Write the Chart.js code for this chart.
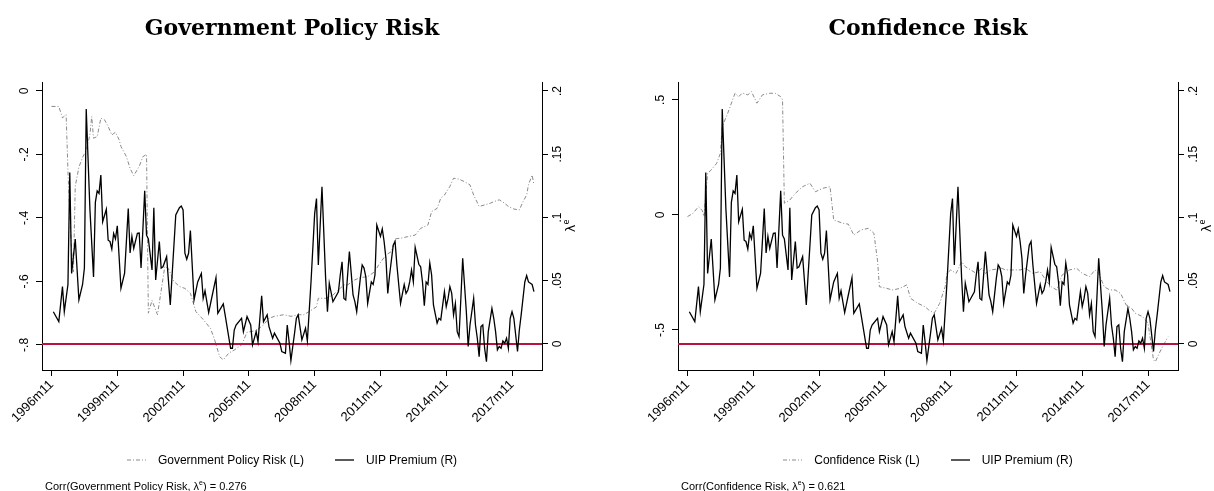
<!DOCTYPE html>
<html>
<head>
<meta charset="utf-8">
<script src="https://cdn.jsdelivr.net/npm/chart.js@4.4.1/dist/chart.umd.min.js"></script>
<style>
    body { margin: 0; background: #fff; }
    #wrap { position: relative; width: 1214px; height: 491px; overflow: hidden; font-family: "Liberation Sans", Arial, sans-serif; color: #000; }
    .panel { position: absolute; top: 0; width: 607px; height: 491px; }
    .panel canvas { position: absolute; left: 0; top: 0; }
    .title { position: absolute; top: 14px; width: 500px; text-align: center; font: bold 22px "DejaVu Serif", serif; }
    .legend { position: absolute; top: 452px; width: 500px; height: 16px; display: flex; justify-content: center; align-items: center; font-size: 12px; }
    .legend svg { margin-right: 12px; }
    .legend .gap { width: 31px; }
    .note { position: absolute; top: 479px; font-size: 11px; white-space: nowrap; }
    .note sup { font-size: 7px; }
</style>
</head>
<body>
<div id="wrap">
    <div class="panel" style="left:0"><canvas id="govChart" width="607" height="491"></canvas></div>
    <div class="panel" style="left:607px"><canvas id="confChart" width="607" height="491"></canvas></div>

    <div class="title" style="left:42px">Government Policy Risk</div>
    <div class="title" style="left:678px">Confidence Risk</div>

    <div class="legend" style="left:42px">
        <svg width="19" height="4"><line x1="0" y1="2" x2="19" y2="2" stroke="#8a8a8a" stroke-width="1" stroke-dasharray="4 2 1 2"/></svg>
        <span>Government Policy Risk (L)</span>
        <span class="gap"></span>
        <svg width="19" height="4"><line x1="0" y1="2" x2="19" y2="2" stroke="#000" stroke-width="1.3"/></svg>
        <span>UIP Premium (R)</span>
    </div>
    <div class="legend" style="left:678px">
        <svg width="19" height="4"><line x1="0" y1="2" x2="19" y2="2" stroke="#8a8a8a" stroke-width="1" stroke-dasharray="4 2 1 2"/></svg>
        <span>Confidence Risk (L)</span>
        <span class="gap"></span>
        <svg width="19" height="4"><line x1="0" y1="2" x2="19" y2="2" stroke="#000" stroke-width="1.3"/></svg>
        <span>UIP Premium (R)</span>
    </div>

    <div class="note" style="left:45px">Corr(Government Policy Risk, λ<sup>e</sup>) = 0.276</div>
    <div class="note" style="left:681px">Corr(Confidence Risk, λ<sup>e</sup>) = 0.621</div>
</div>

<script>
// ===== Data (x = months since 1996m11) =====
const xTickMonths = [0, 36, 72, 108, 144, 180, 216, 252];
const xTickLabels = ['1996m11', '1999m11', '2002m11', '2005m11', '2008m11', '2011m11', '2014m11', '2017m11'];
const xRange = { min: -5.2, max: 268.4 };

// UIP premium (right axis, shared by both panels)
const uipMonths = [1, 4, 6, 7, 9, 10, 11, 13, 15, 17, 18, 19, 21, 23, 24, 25, 26, 27, 28, 30,
    31, 32, 33, 34, 35, 36, 38, 40, 42, 43, 44, 45, 47, 48, 49, 51, 52, 53, 55, 56,
    57, 59, 60, 61, 63, 65, 68, 70, 71, 72, 73, 74, 75, 76, 78, 80, 82, 83, 84, 86,
    88, 90, 91, 94, 95, 98, 99, 100, 101, 104, 105, 107, 109, 110, 112, 113, 115, 116, 118, 119,
    121, 122, 125, 126, 128, 129, 130, 131, 133, 134, 135, 137, 139, 140, 142, 144, 145, 146, 148, 150,
    151, 152, 154, 157, 158, 159, 160, 161, 163, 164, 165, 166, 167, 169, 170, 171, 172, 173, 175, 176,
    177, 178, 180, 181, 182, 183, 184, 185, 187, 188, 189, 190, 191, 193, 194, 195, 196, 197, 198, 199,
    201, 202, 203, 204, 205, 206, 207, 208, 209, 211, 212, 213, 215, 216, 217, 218, 219, 220, 221, 222,
    223, 224, 225, 227, 228, 229, 231, 232, 233, 234, 235, 236, 237, 238, 239, 241, 242, 243, 244, 245,
    246, 247, 248, 249, 250, 251, 252, 253, 255, 256, 257, 259, 260, 261, 263, 264];
const uipValues = [.0255, .0176, .0453, .0255, .047, .1356, .0558, .083, .0348, .047, .060, .1857, .107, .053, .112, .121, .119, .1335, .0966, .1064,
    .082, .081, .075, .0874, .083, .0934, .044, .056, .107, .072, .085, .0756, .0874, .0877, .060, .121, .086, .083, .0585, .1077,
    .0506, .081, .060, .061, .069, .0308, .102, .1077, .109, .106, .0717, .067, .0717, .0896, .0348, .049, .0558, .036, .042, .0248,
    .0387, .0524, .0242, .0316, .023, -.0034, -.0034, .011, .015, .0203, .0097, .0216, .015, -.0008, .0097, .0018, .038, .0176, .023, .0137,
    .0045, .0085, .0005, -.006, -.0074, .015, .0018, -.0132, .0085, .0203, .023, .0032, .0124, .0024, .049, .103, .115, .0624, .1243, .052,
    .0255, .048, .0334, .0413, .0545, .065, .036, .0348, .073, .056, .0387, .0334, .0255, .052, .0624, .060, .053, .032, .049, .047,
    .0545, .094, .085, .091, .081, .0677, .040, .0545, .078, .081, .0624, .047, .032, .047, .040, .0427, .049, .0585, .049, .0764,
    .063, .061, .049, .0303, .049, .047, .064, .0545, .0308, .0164, .0203, .019, .0413, .0295, .036, .0453, .040, .023, .032, .0097,
    .0058, .036, .0677, .0255, -.002, .015, .036, .015, .0045, -.010, .0137, .015, -.0034, -.014, .0097, .0282, .0203, .0097, -.0047, -.002,
    -.0034, .0024, .0006, .0045, -.0034, .0203, .0255, .0203, -.006, .011, .023, .049, .054, .049, .047, .0413];

// Government policy risk (left axis, left panel)
const govMonths = [0, 4, 6, 8, 9, 10, 11, 12, 13, 15, 17, 19, 21, 22, 23, 25, 27, 29, 31, 33,
    35, 37, 38, 41, 43, 45, 48, 50, 52, 53, 55, 58, 62, 64, 67, 70, 73, 76, 79, 83,
    87, 89, 92, 94, 97, 100, 104, 107, 112, 116, 119, 122, 127, 131, 135, 138, 141, 145, 146, 150,
    154, 157, 160, 162, 166, 169, 173, 177, 179, 183, 186, 188, 191, 195, 199, 202, 206, 208, 211, 213,
    215, 218, 220, 223, 226, 229, 231, 234, 237, 240, 242, 245, 248, 250, 253, 256, 258, 260, 261, 263, 264];
const govValues = [-.049, -.049, -.085, -.075, -.25, -.40, -.50, -.57, -.30, -.24, -.21, -.186, -.139, -.081, -.149, -.144, -.086, -.091, -.112, -.139,
    -.13, -.154, -.175, -.207, -.244, -.267, -.238, -.207, -.20, -.70, -.66, -.705, -.553, -.56, -.60, -.616, -.622, -.637, -.695, -.72,
    -.748, -.779, -.837, -.847, -.826, -.816, -.80, -.76, -.755, -.737, -.716, -.71, -.705, -.71, -.705, -.705, -.695, -.68, -.653, -.653,
    -.643, -.627, -.611, -.611, -.595, -.588, -.585, -.569, -.548, -.517, -.506, -.466, -.464, -.459, -.454, -.433, -.422, -.38, -.37, -.338,
    -.328, -.301, -.275, -.278, -.286, -.296, -.328, -.364, -.359, -.354, -.349, -.343, -.354, -.364, -.372, -.375, -.349, -.328, -.296, -.265, -.296];

// Confidence risk (left axis, right panel)
const confMonths = [0, 3, 6, 8, 9, 11, 13, 16, 18, 19, 22, 26, 28, 30, 33, 35, 38, 41, 45, 48,
    51, 52, 53, 56, 59, 63, 67, 70, 74, 78, 79, 80, 85, 88, 91, 95, 99, 102, 104, 105,
    109, 112, 116, 120, 122, 126, 130, 132, 135, 138, 141, 142, 144, 147, 150, 152, 155, 158, 161, 163,
    166, 172, 174, 178, 182, 185, 189, 193, 196, 199, 202, 205, 209, 213, 216, 220, 223, 225, 228, 231,
    234, 237, 240, 243, 245, 249, 252, 255, 256, 259, 262, 263];
const confValues = [-.007, .007, .036, .02, -.007, .181, .196, .225, .268, .384, .442, .529, .514, .53, .522, .536, .486, .522, .529, .529,
    .514, .50, .051, .065, .094, .123, .138, .101, .116, .123, .05, -.022, -.036, -.04, -.087, -.065, -.058, -.08, -.2, -.312,
    -.319, -.326, -.32, -.304, -.362, -.384, -.399, -.413, -.427, -.384, -.312, -.254, -.239, -.254, -.203, -.225, -.239, -.254, -.232, -.254,
    -.239, -.232, -.239, -.239, -.239, -.232, -.254, -.246, -.283, -.312, -.326, -.261, -.239, -.232, -.254, -.268, -.239, -.254, -.312, -.326,
    -.326, -.341, -.391, -.406, -.427, -.442, -.471, -.63, -.638, -.587, -.543, -.529];

// Axis ticks and ranges
const govTicks = [-0.8, -0.6, -0.4, -0.2, 0];
const govTickLabels = ['-.8', '-.6', '-.4', '-.2', '0'];
const govRange = { min: -0.879, max: 0.028 };
const confTicks = [-0.5, 0, 0.5];
const confTickLabels = ['-.5', '0', '.5'];
const confRange = { min: -0.674, max: 0.578 };
const uipTicks = [0, 0.05, 0.1, 0.15, 0.2];
const uipTickLabels = ['0', '.05', '.1', '.15', '.2'];
const uipRange = { min: -0.0206, max: 0.2071 };
const uipZero = 0;

// ===== Helpers =====
const toPoints = (months, values) => months.map((m, i) => ({ x: m, y: values[i] }));
const FONT = '"Liberation Sans", Arial, sans-serif';

// Stata-style rotated y labels and the λᵉ axis title
const stataAxes = {
    id: 'stataAxes',
    afterDraw(chart, args, opts) {
        const ctx = chart.ctx;
        const yL = chart.scales.yL;
        const yR = chart.scales.yR;
        const drawRot = (text, x, y) => {
            ctx.save();
            ctx.translate(x, y);
            ctx.rotate(-Math.PI / 2);
            ctx.fillText(text, 0, 0);
            ctx.restore();
        };
        ctx.save();
        ctx.fillStyle = '#000';
        ctx.font = '12px ' + FONT;
        ctx.textAlign = 'center';
        ctx.textBaseline = 'middle';
        yL.ticks.forEach((t, i) => drawRot(opts.leftLabels[i], yL.right - 17, yL.getPixelForValue(t.value)));
        yR.ticks.forEach((t, i) => drawRot(opts.rightLabels[i], yR.left + 16, yR.getPixelForValue(t.value)));

        // λᵉ
        const cy = (chart.chartArea.top + chart.chartArea.bottom) / 2;
        ctx.translate(yR.left + 30, cy);
        ctx.rotate(-Math.PI / 2);
        ctx.textAlign = 'left';
        ctx.font = '13px "DejaVu Sans", sans-serif';
        const w1 = ctx.measureText('λ').width;
        ctx.font = '8px "DejaVu Sans", sans-serif';
        const w2 = ctx.measureText('e').width;
        const x0 = -(w1 + w2) / 2;
        ctx.font = '13px "DejaVu Sans", sans-serif';
        ctx.fillText('λ', x0, 0);
        ctx.font = '8px "DejaVu Sans", sans-serif';
        ctx.fillText('e', x0 + w1, -5);
        ctx.restore();
    }
};

const axisGrid = { drawOnChartArea: false, drawTicks: true, tickLength: 6, color: '#000', lineWidth: 1 };
const axisBorder = { display: true, color: '#000', width: 1 };

// ===== Build one panel =====
function buildPanel(canvasId, risk, leftWidth, rightWidth) {
    const ctx = document.getElementById(canvasId).getContext('2d');
    return new Chart(ctx, {
        type: 'line',
        data: {
            datasets: [
                {
                    label: 'UIP Premium (R)',
                    data: toPoints(uipMonths, uipValues),
                    yAxisID: 'yR',
                    borderColor: '#000',
                    borderWidth: 1.3,
                    pointRadius: 0,
                    tension: 0
                },
                {
                    label: 'zero',
                    data: [{ x: xRange.min, y: uipZero }, { x: xRange.max, y: uipZero }],
                    yAxisID: 'yR',
                    borderColor: '#b8123e',
                    borderWidth: 2,
                    pointRadius: 0
                },
                {
                    label: risk.label,
                    data: toPoints(risk.months, risk.values),
                    yAxisID: 'yL',
                    borderColor: '#8a8a8a',
                    borderWidth: 1,
                    borderDash: [4, 2, 1, 2],
                    pointRadius: 0,
                    tension: 0
                }
            ]
        },
        options: {
            responsive: false,
            animation: false,
            events: [],
            layout: { padding: { top: 82, left: 0, right: 0, bottom: 0 } },
            plugins: {
                legend: { display: false },
                tooltip: { enabled: false },
                stataAxes: { leftLabels: risk.tickLabels, rightLabels: uipTickLabels }
            },
            scales: {
                x: {
                    type: 'linear',
                    min: xRange.min,
                    max: xRange.max,
                    grid: axisGrid,
                    border: axisBorder,
                    afterBuildTicks: (s) => { s.ticks = xTickMonths.map(v => ({ value: v })); },
                    afterFit: (s) => { s.height = 121; },
                    ticks: {
                        autoSkip: false,
                        minRotation: 45,
                        maxRotation: 45,
                        padding: 1,
                        color: '#000',
                        font: { family: FONT, size: 13 },
                        callback: (v) => xTickLabels[xTickMonths.indexOf(v)]
                    }
                },
                yL: {
                    position: 'left',
                    min: risk.range.min,
                    max: risk.range.max,
                    grid: axisGrid,
                    border: axisBorder,
                    afterBuildTicks: (s) => { s.ticks = risk.ticks.map(v => ({ value: v })); },
                    afterFit: (s) => { s.width = leftWidth; },
                    ticks: { display: false }
                },
                yR: {
                    position: 'right',
                    min: uipRange.min,
                    max: uipRange.max,
                    grid: axisGrid,
                    border: axisBorder,
                    afterBuildTicks: (s) => { s.ticks = uipTicks.map(v => ({ value: v })); },
                    afterFit: (s) => { s.width = rightWidth; },
                    ticks: { display: false }
                }
            }
        },
        plugins: [stataAxes]
    });
}

// ===== Render =====
buildPanel('govChart', {
    label: 'Government Policy Risk (L)',
    months: govMonths, values: govValues,
    ticks: govTicks, tickLabels: govTickLabels, range: govRange
}, 42, 65);

buildPanel('confChart', {
    label: 'Confidence Risk (L)',
    months: confMonths, values: confValues,
    ticks: confTicks, tickLabels: confTickLabels, range: confRange
}, 71, 36);
</script>
</body>
</html>
